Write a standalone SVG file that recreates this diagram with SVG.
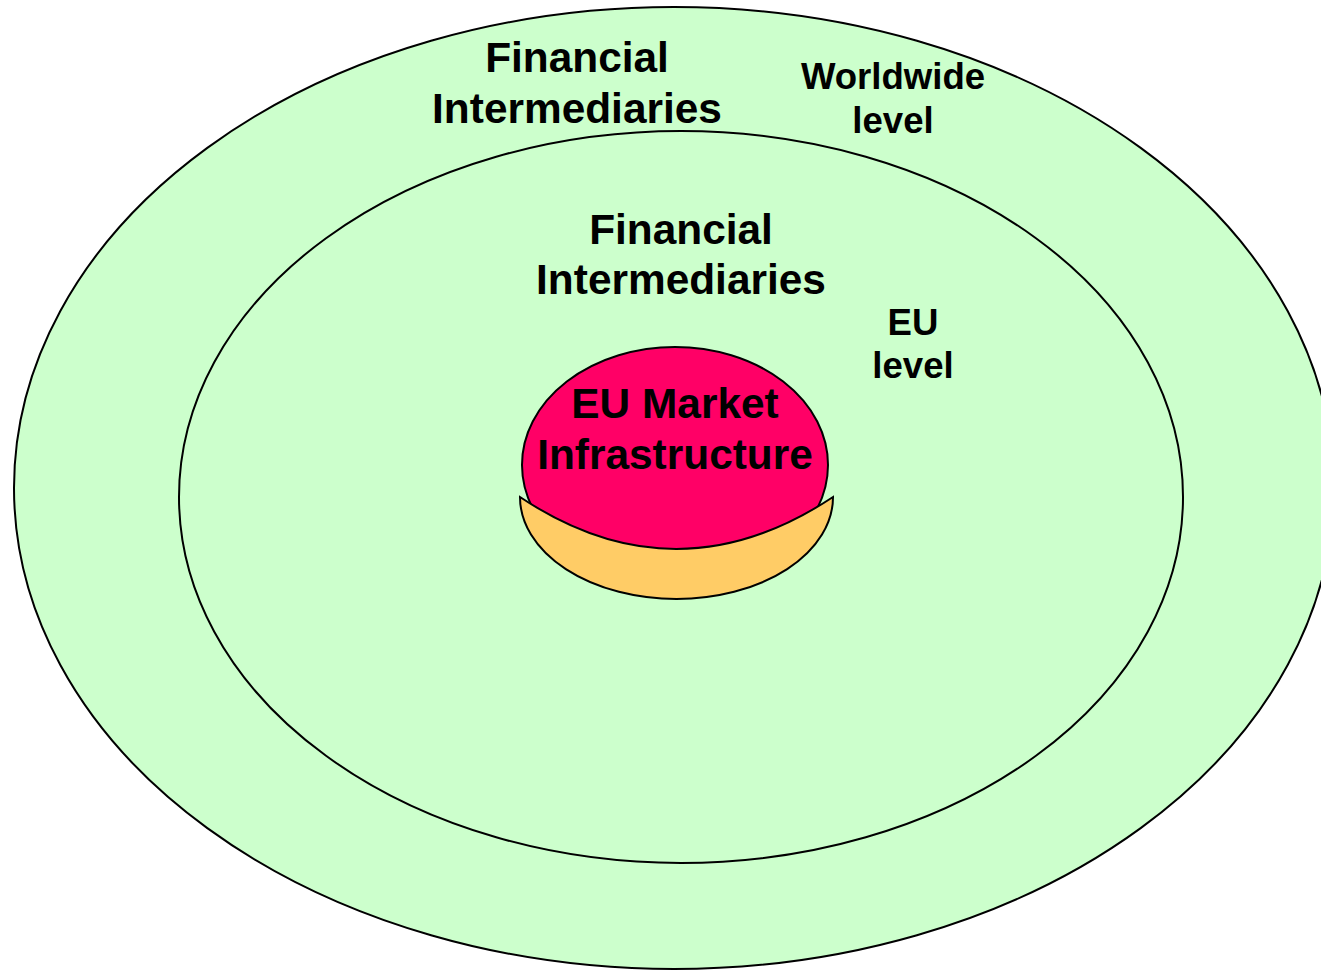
<svg xmlns="http://www.w3.org/2000/svg" width="1321" height="970" viewBox="0 0 1321 970">
<style>
.ring{fill:#CCFFCC;stroke:#000;stroke-width:2}
.t{font-family:"Liberation Sans",Arial,sans-serif;font-weight:bold;fill:#000;text-anchor:middle}
.big{font-size:42.4px}
.sm{font-size:36.6px}
</style>
<rect width="1321" height="970" fill="#fff"/>
<g id="worldwide">
<ellipse class="ring" cx="674" cy="488" rx="660" ry="481"/>
<text class="t big" x="577" y="72">Financial</text>
<text class="t big" x="577" y="123">Intermediaries</text>
<text class="t sm" x="893" y="89">Worldwide</text>
<text class="t sm" x="893" y="133">level</text>
</g>
<g id="eu">
<ellipse class="ring" cx="681" cy="497" rx="502" ry="366"/>
<text class="t big" x="681" y="244">Financial</text>
<text class="t big" x="681" y="294">Intermediaries</text>
<text class="t sm" x="913" y="335">EU</text>
<text class="t sm" x="913" y="378">level</text>
</g>
<g id="infrastructure">
<ellipse cx="675" cy="465" rx="153" ry="118" fill="#FF0066" stroke="#000" stroke-width="2"/>
<path d="M520,497 A156.5,102 0 0 0 833,497 Q676,601 520,497 Z" fill="#FFCC66" stroke="#000" stroke-width="2"/>
<text class="t big" x="675" y="418">EU Market</text>
<text class="t big" x="675" y="469">Infrastructure</text>
</g>
<g id="connectors"/>
</svg>
